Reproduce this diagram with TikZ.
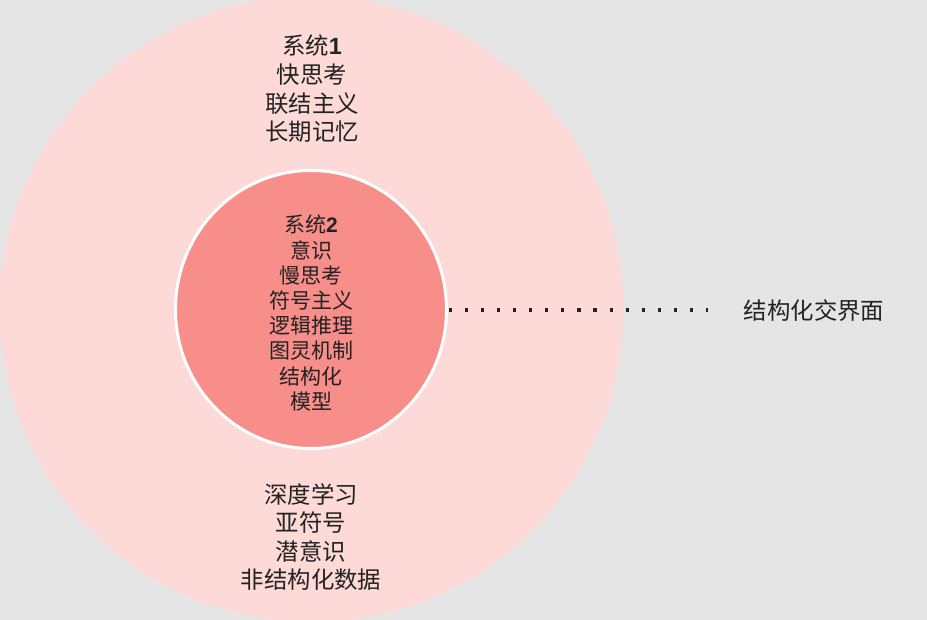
\documentclass[tikz,border=0pt]{standalone}
\usepackage{fontspec}
\setmainfont{Noto Sans CJK SC}
\usetikzlibrary{shapes.geometric}
\definecolor{bgc}{HTML}{E5E5E5}
\definecolor{outerpink}{HTML}{FDD9D7}
\definecolor{innerpink}{HTML}{F78E8A}
\definecolor{txt}{HTML}{222222}
\tikzset{
  lbl/.style={align=center, text=txt, inner sep=0pt},
  bigtxt/.style={font=\fontsize{23.4}{28.6}\selectfont},
  smalltxt/.style={font=\fontsize{21}{25.2}\selectfont},
  dots/.style={draw=txt, line width=3.2pt, dash pattern=on 3.2pt off 12.9pt}
}
\begin{document}
\begin{tikzpicture}[x=1pt,y=-1pt]
\useasboundingbox (0,0) rectangle (927,620);
\clip (0,0) rectangle (927,620);
\fill[bgc] (0,0) rectangle (927,620);
\node[ellipse, fill=outerpink, minimum width=624, minimum height=626, inner sep=0pt] (outer) at (311.5,309) {};
\node[ellipse, fill=innerpink, draw=white, line width=3pt, minimum width=271, minimum height=278, inner sep=0pt] (inner) at (311,309.5) {};
\node[lbl, bigtxt] (sys1) at (312,89) {系统{\fontspec{Liberation Sans}\bfseries 1}\\快思考\\联结主义\\长期记忆};
\node[lbl, smalltxt] (sys2) at (311,313) {系统{\fontspec{Liberation Sans}\bfseries 2}\\意识\\慢思考\\符号主义\\逻辑推理\\图灵机制\\结构化\\模型};
\node[lbl, bigtxt] (deep) at (311,537) {深度学习\\亚符号\\潜意识\\非结构化数据};
\node[lbl, bigtxt] (iface) at (814,311) {结构化交界面};
\coordinate (dotend) at (708,310);
\draw[dots] ([xshift=0.5pt]inner.east |- 0,310) -- (dotend);
\end{tikzpicture}
\end{document}
